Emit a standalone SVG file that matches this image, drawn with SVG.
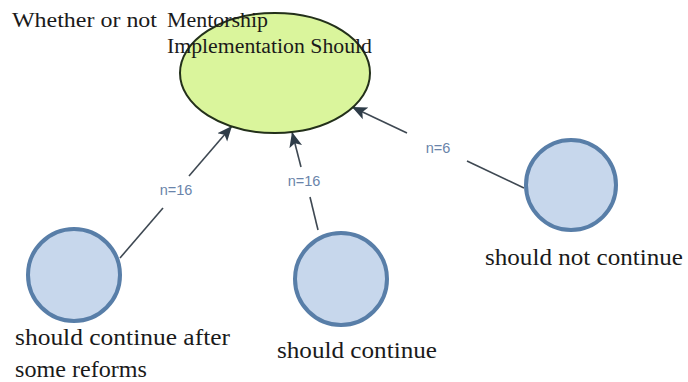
<svg xmlns="http://www.w3.org/2000/svg" width="688" height="382" viewBox="0 0 688 382">
<style>
.serif{font-family:"Liberation Serif","Times New Roman",serif;fill:#1a1a1a}
.lbl{font-family:"Liberation Sans",Arial,sans-serif;font-size:14.5px;fill:#6a84aa;text-anchor:middle}
.edge{stroke:#3e4852;stroke-width:1.6;fill:none}
.leaf{fill:#c7d7ec;stroke:#587ea8;stroke-width:4}
.root{fill:#daf59c;stroke:#23301a;stroke-width:2}
</style>
<defs>
<marker id="arr" markerUnits="userSpaceOnUse" markerWidth="18" markerHeight="16" refX="15" refY="8" orient="auto">
<path d="M0,1.5 L15,8 L0,14.5 L3.5,8 Z" fill="#2e3c48"/>
</marker>
</defs>
<rect width="688" height="382" fill="#ffffff"/>
<g id="connectors">
<line class="edge" x1="120" y1="258" x2="163" y2="208"/>
<line class="edge" x1="189" y1="176" x2="232" y2="126" marker-end="url(#arr)"/>
<text class="lbl" x="176" y="195">n=16</text>
<line class="edge" x1="318" y1="230" x2="310" y2="197"/>
<line class="edge" x1="301" y1="167" x2="292" y2="132" marker-end="url(#arr)"/>
<text class="lbl" x="304" y="186">n=16</text>
<line class="edge" x1="524" y1="188" x2="467" y2="161"/>
<line class="edge" x1="407" y1="133" x2="352" y2="107" marker-end="url(#arr)"/>
<text class="lbl" x="438" y="153">n=6</text>
</g>
<g id="root">
<ellipse class="root" cx="275" cy="73" rx="95" ry="60"/>
<text class="serif" font-size="20" x="12" y="27" textLength="145" lengthAdjust="spacingAndGlyphs">Whether or not</text>
<text class="serif" font-size="20" x="167" y="27" textLength="101" lengthAdjust="spacingAndGlyphs">Mentorship</text>
<text class="serif" font-size="20" x="167" y="53" textLength="205" lengthAdjust="spacingAndGlyphs">Implementation Should</text>
</g>
<g id="node-reforms">
<circle class="leaf" cx="74" cy="275" r="46"/>
<text class="serif" font-size="23" x="15" y="345" textLength="215" lengthAdjust="spacingAndGlyphs">should continue after</text>
<text class="serif" font-size="23" x="15" y="377" textLength="132" lengthAdjust="spacingAndGlyphs">some reforms</text>
</g>
<g id="node-continue">
<circle class="leaf" cx="341" cy="279" r="46"/>
<text class="serif" font-size="23" x="277" y="358" textLength="160" lengthAdjust="spacingAndGlyphs">should continue</text>
</g>
<g id="node-not">
<circle class="leaf" cx="571" cy="185" r="45"/>
<text class="serif" font-size="23" x="485" y="265" textLength="198" lengthAdjust="spacingAndGlyphs">should not continue</text>
</g>
</svg>
